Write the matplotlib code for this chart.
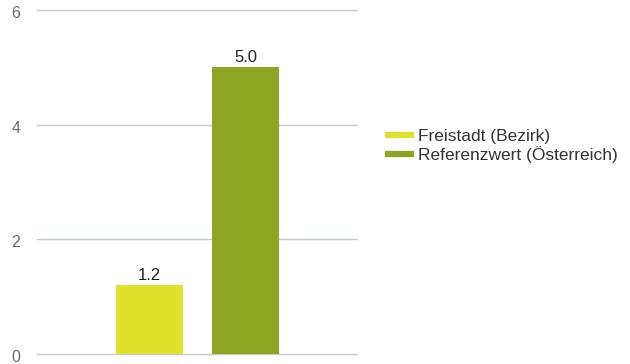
import matplotlib.pyplot as plt
from matplotlib.lines import Line2D
from matplotlib.transforms import ScaledTranslation

plt.rcParams['font.family'] = ['Liberation Sans', 'DejaVu Sans']

# Series
series = ['Freistadt (Bezirk)', 'Referenzwert (Österreich)']
values = [1.2, 5.0]
colors = ['#dfe12a', '#8ea523']
yticks = [0, 2, 4, 6]

fig = plt.figure(figsize=(6.3, 3.64), dpi=100)
ax = fig.add_axes([37 / 630, 10 / 364, 320 / 630, 344 / 364])

x = list(range(len(values)))
bars = ax.bar(x, values, width=0.70, color=colors, zorder=3)

for b, v in zip(bars, values):
    ax.text(b.get_x() + b.get_width() / 2, v + 0.04, f'{v:.1f}',
            ha='center', va='bottom', fontsize=12, color='#222222')

ax.set_xlim(-1.172, 2.161)
ax.set_ylim(0, 6)
ax.set_yticks(yticks)
ax.set_yticklabels([str(t) for t in yticks])
ax.set_xticks([])
ax.grid(axis='y', color='#c5cbd2', linewidth=1, zorder=0)
for gl in ax.get_ygridlines():
    gl.set_clip_on(False)
for s in ax.spines.values():
    s.set_visible(False)
ax.tick_params(axis='y', length=0, pad=12, labelsize=11.5, labelcolor='#6a6a6a')
# nudge the tick labels slightly below their gridlines
offset = ScaledTranslation(0, -2 / 100, fig.dpi_scale_trans)
for lbl in ax.get_yticklabels():
    lbl.set_transform(lbl.get_transform() + offset)

handles = [Line2D([0], [0], color=c, linewidth=4.5) for c in colors]
fig.legend(handles, series, loc='upper left', bbox_to_anchor=(381 / 630, 1 - 122 / 364),
           frameon=False, fontsize=12.5, handlelength=1.3, handletextpad=0.45,
           labelspacing=0.1, labelcolor='#333333', borderaxespad=0)

plt.savefig('out.png', dpi=100)
